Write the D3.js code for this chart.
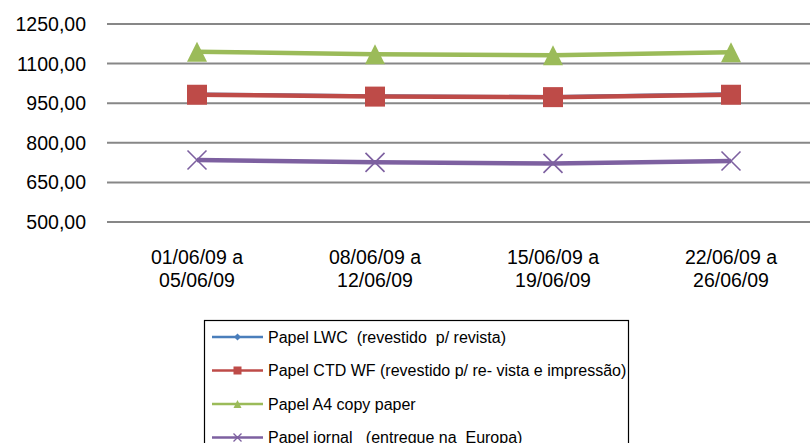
<!DOCTYPE html>
<html>
<head>
<meta charset="utf-8">
<script src="https://cdn.jsdelivr.net/npm/d3@7"></script>
<style>
    html, body { margin: 0; padding: 0; background: #fff; }
    svg { display: block; font-family: "Liberation Sans", Arial, sans-serif; }
    text { white-space: pre; }
</style>
</head>
<body>
<div id="chart"></div>
<script>
// data
var periods = [
    ["01/06/09 a", "05/06/09"],
    ["08/06/09 a", "12/06/09"],
    ["15/06/09 a", "19/06/09"],
    ["22/06/09 a", "26/06/09"]
];
var yTicks = [500, 650, 800, 950, 1100, 1250];

var lwc = [987, 980, 977, 988];
var ctdWf = [982, 975, 973, 982];
var a4Copy = [1145, 1135, 1132, 1143];
var jornal = [735, 726, 722, 731];

var seriesNames = [
    "Papel LWC  (revestido  p/ revista)",
    "Papel CTD WF (revestido p/ re- vista e impressão)",
    "Papel A4 copy paper",
    "Papel jornal   (entregue na  Europa)"
];

(function () {
    var width = 810, height = 443;
    var svg = d3.select("#chart").append("svg")
        .attr("width", width)
        .attr("height", height);

    var series = [
        { name: seriesNames[0], values: lwc, color: "#4a7ebb", lineWidth: 2, marker: "diamond", size: 8 },
        { name: seriesNames[1], values: ctdWf, color: "#be4b48", lineWidth: 4.5, marker: "square", size: 20 },
        { name: seriesNames[2], values: a4Copy, color: "#9bbb59", lineWidth: 4.5, marker: "triangle", size: 20 },
        { name: seriesNames[3], values: jornal, color: "#7d60a0", lineWidth: 4.5, marker: "cross", size: 19 }
    ];

    var x = d3.scalePoint()
        .domain(d3.range(periods.length))
        .range([108, 820])
        .padding(0.5);

    var y = d3.scaleLinear()
        .domain([500, 1250])
        .range([222, 24]);

    var fmt = function (v) { return d3.format(".2f")(v).replace(".", ","); };

    // gridlines
    svg.append("g")
        .selectAll("line")
        .data(yTicks)
        .enter()
        .append("line")
        .attr("x1", 107)
        .attr("x2", width)
        .attr("y1", function (d) { return y(d); })
        .attr("y2", function (d) { return y(d); })
        .attr("stroke", "#878787")
        .attr("stroke-width", 2);

    // y labels
    svg.append("g")
        .selectAll("text")
        .data(yTicks)
        .enter()
        .append("text")
        .attr("x", 86)
        .attr("y", function (d) { return y(d); })
        .attr("dy", "0.36em")
        .attr("text-anchor", "end")
        .attr("font-size", 19.5)
        .attr("fill", "#000")
        .text(fmt);

    // x labels
    var xl = svg.append("g")
        .selectAll("text")
        .data(periods)
        .enter()
        .append("text")
        .attr("text-anchor", "middle")
        .attr("font-size", 19.5)
        .attr("fill", "#000");
    xl.append("tspan")
        .attr("x", function (d, i) { return x(i); })
        .attr("y", 264)
        .text(function (d) { return d[0]; });
    xl.append("tspan")
        .attr("x", function (d, i) { return x(i); })
        .attr("y", 287)
        .text(function (d) { return d[1]; });

    function drawMarker(g, type, color, size) {
        var h = size / 2;
        if (type === "diamond") {
            g.append("path").attr("d", d3.symbol(d3.symbolDiamond2, size * size * 0.5)()).attr("fill", color);
        } else if (type === "square") {
            g.append("rect").attr("x", -h).attr("y", -h).attr("width", size).attr("height", size).attr("fill", color);
        } else if (type === "triangle") {
            g.append("path").attr("d", "M0," + (-h) + "L" + h + "," + h + "L" + (-h) + "," + h + "Z").attr("fill", color);
        } else if (type === "cross") {
            g.append("path").attr("d", "M" + (-h) + "," + (-h) + "L" + h + "," + h + "M" + h + "," + (-h) + "L" + (-h) + "," + h)
                .attr("stroke", color).attr("stroke-width", size > 10 ? 1.6 : 1.3).attr("fill", "none");
        }
    }

    var line = d3.line()
        .x(function (d, i) { return x(i); })
        .y(function (d) { return y(d); });

    series.forEach(function (s) {
        var g = svg.append("g");
        g.append("path")
            .datum(s.values)
            .attr("d", line)
            .attr("fill", "none")
            .attr("stroke", s.color)
            .attr("stroke-width", s.lineWidth)
            .attr("stroke-linejoin", "round");
        s.values.forEach(function (v, i) {
            var m = g.append("g").attr("transform", "translate(" + x(i) + "," + y(v) + ")");
            drawMarker(m, s.marker, s.color, s.size);
        });
    });

    // legend
    var legend = svg.append("g");
    legend.append("rect")
        .attr("x", 204.5)
        .attr("y", 320.5)
        .attr("width", 424)
        .attr("height", 160)
        .attr("fill", "none")
        .attr("stroke", "#000")
        .attr("stroke-width", 1.2);

    series.forEach(function (s, i) {
        var ly = 337 + i * 33.5;
        var row = legend.append("g");
        row.append("line")
            .attr("x1", 212).attr("x2", 263)
            .attr("y1", ly).attr("y2", ly)
            .attr("stroke", s.color)
            .attr("stroke-width", 2.5);
        var m = row.append("g").attr("transform", "translate(237.5," + ly + ")");
        drawMarker(m, s.marker, s.color, 8);
        row.append("text")
            .attr("x", 268)
            .attr("y", ly)
            .attr("dy", "0.36em")
            .attr("font-size", 16)
            .attr("fill", "#000")
            .text(s.name);
    });
})();
</script>
</body>
</html>
